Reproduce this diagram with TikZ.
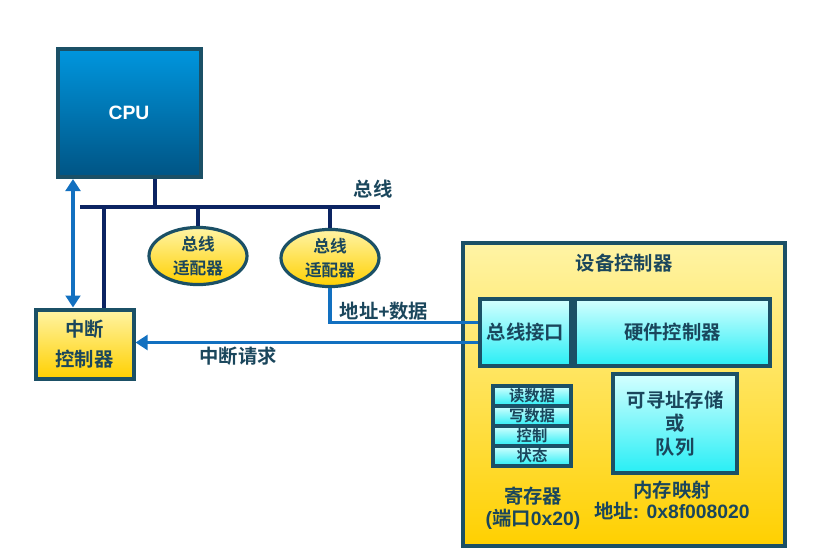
\documentclass[tikz,border=0pt]{standalone}
\usepackage{fontspec}
\setmainfont{Noto Sans CJK SC}[BoldFont={Noto Sans CJK SC Bold}]
\newfontfamily\cpufont{Liberation Sans}[BoldFont={Liberation Sans Bold}]
\usetikzlibrary{arrows.meta,shapes.geometric}

\definecolor{edge}{RGB}{27,80,102}
\definecolor{ink}{RGB}{26,70,92}
\definecolor{busnavy}{RGB}{12,36,98}
\definecolor{link}{RGB}{18,112,192}
\definecolor{ylight}{RGB}{255,244,165}
\definecolor{ydark}{RGB}{255,208,0}
\definecolor{clight}{RGB}{212,255,255}
\definecolor{cdark}{RGB}{40,238,245}
\definecolor{cputop}{RGB}{0,150,222}
\definecolor{cpubot}{RGB}{0,84,132}

\newcommand\lat[1]{{\cpufont\bfseries #1}}

\begin{document}
\begin{tikzpicture}[x=0.75pt,y=-0.75pt,
  wh/.style 2 args={minimum width=#1*0.75pt,minimum height=#2*0.75pt},
  box/.style={draw=edge,line width=3pt,inner sep=0pt,align=center,text=ink,
              font=\fontsize{14.5}{17.5}\selectfont\bfseries},
  yellowfill/.style={top color=ylight,bottom color=ydark},
  cyanfill/.style={top color=clight,bottom color=cdark},
  adapter/.style={ellipse,draw=edge,line width=2.4pt,inner sep=0pt,align=center,
                  text=ink,yellowfill,font=\fontsize{12.5}{18.5}\selectfont\bfseries},
  regcell/.style={box,line width=2.4pt,cyanfill,wh={78}{20},
                  font=\fontsize{11.5}{12}\selectfont\bfseries},
  label/.style={text=ink,inner sep=0pt,align=center,
                font=\fontsize{14.5}{16.5}\selectfont\bfseries},
  bus/.style={draw=busnavy,line width=3pt},
  signal/.style={draw=link,line width=2.3pt},
  tip/.style={-{Triangle[length=9pt,width=11pt]}}
]
\useasboundingbox (0,0) rectangle (822,560);

% processor
\node[box,wh={143}{128},top color=cputop,bottom color=cpubot,text=white,
      font=\cpufont\fontsize{14.5}{16}\selectfont\bfseries] (cpu) at (129,113) {CPU};

% system bus
\coordinate (busL) at (80,207);
\coordinate (busR) at (380,207);
\coordinate (cpuTap) at (155,207);
\coordinate (icTap) at (104,207);
\coordinate (dblx) at (73,0);
\draw[bus] (busL) -- (busR);
\draw[bus] (cpu.south -| cpuTap) -- (cpuTap);
\node[label] (buslabel) at (373,189) {总线};

% bus adapters
\node[adapter,wh={98}{52}] (ad1) at (198,256) {总线\\适配器};
\node[adapter,wh={98}{54}] (ad2) at (330,258) {总线\\适配器};
\draw[bus] (ad1.north) -- (ad1.north |- busL);
\draw[bus] (ad2.north) -- (ad2.north |- busL);

% interrupt controller
\node[box,yellowfill,wh={98}{69},font=\fontsize{14.5}{22.5}\selectfont\bfseries]
  (ic) at (84.5,344) {中断\\控制器};
\draw[bus] (icTap) -- (ic.north -| icTap);
\draw[signal,{Triangle[length=9pt,width=11pt]}-{Triangle[length=9pt,width=11pt]}]
  (cpu.south -| dblx) -- (ic.north -| dblx);

% device controller
\node[box,yellowfill,wh={322}{303}] (dev) at (624,394.5) {};
\node[label] (devlabel) at (624,263) {设备控制器};
\node[box,cyanfill,wh={91}{67}] (bi) at (525.5,332.5) {总线接口};
\node[box,cyanfill,wh={195}{67}] (hc) at (672.5,332.5) {硬件控制器};

% registers
\node[regcell] (r1) at (532,396) {读数据};
\node[regcell] (r2) at (532,416) {写数据};
\node[regcell] (r3) at (532,436) {控制};
\node[regcell] (r4) at (532,456) {状态};
\node[label,font=\fontsize{14.5}{16.5}\selectfont\bfseries] (reglabel) at (533,508)
  {寄存器\\\lat{(}端口\lat{0x20)}};

% addressable memory
\node[box,cyanfill,wh={124}{99},font=\fontsize{14.5}{17.6}\selectfont\bfseries]
  (mem) at (675,423.5) {可寻址存储\\或\\队列};
\node[label,font=\fontsize{14.5}{15.75}\selectfont\bfseries] (memlabel) at (672,500)
  {内存映射\\地址\lat{: 0x8f008020}};

% address/data path and interrupt request
\draw[signal] (ad2.south) |- ([yshift=7.5pt]bi.west);
\node[label] (adlabel) at (384,311) {地址\lat{+}数据};
\draw[signal,tip] ([yshift=-7.5pt]bi.west) -- ([yshift=-7.5pt]bi.west -| ic.east);
\node[label] (irqlabel) at (238,356) {中断请求};
\end{tikzpicture}
\end{document}
